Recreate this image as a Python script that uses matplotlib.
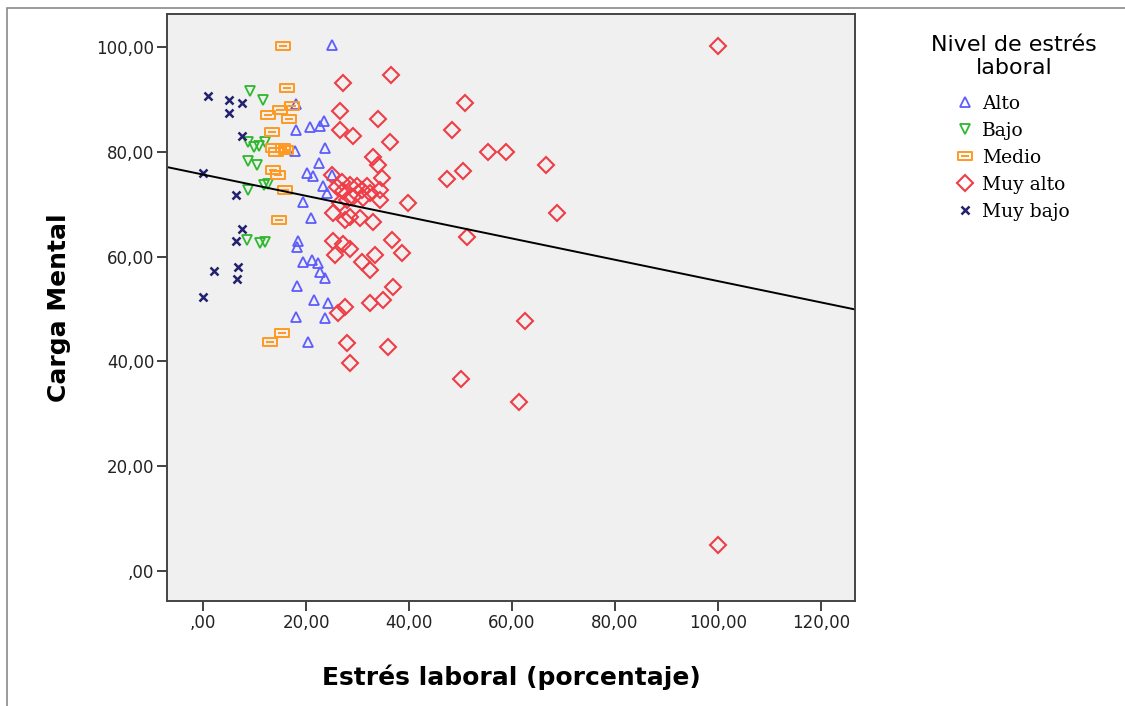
import matplotlib
matplotlib.use("Agg")
import matplotlib.pyplot as plt
import numpy as np
from matplotlib.path import Path
from matplotlib.ticker import FuncFormatter
from matplotlib.patches import Rectangle

# Estrés laboral (x) / Carga Mental (y) por nivel de estrés
alto_x = [25.0, 18.1, 18.1, 20.8, 22.7, 23.5, 17.9, 23.7, 20.2, 21.4, 22.5, 25.0, 23.3, 24.1, 19.4,
          20.9, 18.4, 18.3, 19.4, 21.2, 22.3, 22.7, 23.7, 18.3, 21.6, 24.3, 18.1, 23.7, 20.4]
alto_y = [100.3, 89.2, 84.2, 84.8, 85.0, 85.8, 80.2, 80.8, 76.0, 75.4, 77.9, 75.6, 73.4, 72.2, 70.5,
          67.4, 63.0, 61.9, 59.0, 59.4, 58.8, 57.1, 56.0, 54.4, 51.7, 51.2, 48.5, 48.3, 43.7]

bajo_x = [9.1, 11.7, 8.7, 9.9, 10.9, 12.0, 8.7, 10.5, 11.8, 12.6, 8.7, 8.5, 11.1, 12.0]
bajo_y = [91.7, 89.9, 81.8, 81.0, 81.2, 81.8, 78.3, 77.4, 73.6, 73.8, 72.8, 63.2, 62.7, 62.8]

medio_x = [15.5, 16.3, 17.3, 15.0, 12.6, 16.7, 13.4, 16.1, 13.6, 15.5, 14.2, 13.6, 14.6, 15.9,
           14.8, 15.3, 13.0]
medio_y = [100.1, 92.1, 88.8, 88.0, 87.1, 86.3, 83.7, 80.4, 80.8, 80.8, 79.9, 76.6, 75.6, 72.8,
           66.9, 45.5, 43.7]

muy_alto_x = [100.0, 100.0, 27.2, 36.5, 50.9, 26.6, 34.0, 26.6, 29.1, 36.3, 48.3, 55.3, 58.8, 66.6,
              33.0, 34.0, 50.5, 47.4, 39.8, 68.7, 51.3, 38.6, 62.5, 50.1, 61.4,
              25.0, 34.8, 34.4, 34.4, 27.0, 26.0, 27.2, 28.5, 29.9, 30.9, 31.8, 32.4, 29.1, 28.0,
              26.6, 31.1, 25.2, 28.5, 30.5, 33.0, 27.6,
              36.7, 25.2, 27.2, 28.5, 25.6, 30.9, 32.4, 33.4, 36.9, 35.0, 32.4, 27.6, 26.2, 28.0,
              35.9, 28.5]
muy_alto_y = [100.1, 5.0, 93.2, 94.6, 89.4, 87.7, 86.2, 84.2, 83.1, 81.8, 84.1, 80.0, 80.0, 77.5,
              79.1, 77.4, 76.4, 74.9, 70.3, 68.4, 63.8, 60.7, 47.7, 36.7, 32.3,
              75.6, 75.1, 72.8, 70.9, 74.3, 73.2, 72.6, 73.7, 73.4, 72.8, 73.4, 72.2, 71.4, 70.9,
              70.3, 71.2, 68.4, 67.6, 67.4, 66.7, 66.9,
              63.2, 63.0, 62.5, 61.5, 60.4, 59.0, 57.5, 60.4, 54.2, 51.8, 51.2, 50.4, 49.3, 43.6,
              42.8, 39.7]

muy_bajo_x = [1.0, 5.0, 7.6, 5.0, 7.6, 0.0, 6.4, 7.6, 6.4, 2.1, 6.8, 6.6, 0.0]
muy_bajo_y = [90.7, 89.9, 89.3, 87.4, 83.0, 76.0, 71.8, 65.3, 63.0, 57.3, 58.1, 55.8, 52.3]

# rectangulo con raya, como el de SPSS
rect_verts = [(-1, -0.55), (1, -0.55), (1, 0.55), (-1, 0.55), (-1, -0.55), (-0.5, 0), (0.5, 0)]
rect_codes = [Path.MOVETO, Path.LINETO, Path.LINETO, Path.LINETO, Path.CLOSEPOLY,
              Path.MOVETO, Path.LINETO]
rect_marker = Path(rect_verts, rect_codes)

fig = plt.figure(figsize=(11.25, 7.06), dpi=100)
ax = fig.add_axes([167/1125, 1-601/706, 688/1125, 587/706])
ax.set_facecolor("#f0f0f0")

groups = [
    ("Alto", alto_x, alto_y, "^", "#5c5cff", 7.2, 1.3),
    ("Bajo", bajo_x, bajo_y, "v", "#2eb82e", 7.2, 1.3),
    ("Medio", medio_x, medio_y, rect_marker, "#ff9922", 10.5, 1.4),
    ("Muy alto", muy_alto_x, muy_alto_y, "D", "#f03c46", 8.5, 1.5),
    ("Muy bajo", muy_bajo_x, muy_bajo_y, "x", "#22226e", 5.2, 1.8),
]
for name, xs, ys, mk, col, ms, lw in groups:
    ax.plot(xs, ys, linestyle="none", marker=mk, markersize=ms, markerfacecolor="none",
            markeredgecolor=col, markeredgewidth=lw, label=name)

# recta de ajuste lineal con todos los puntos
all_x = np.concatenate([alto_x, bajo_x, medio_x, muy_alto_x, muy_bajo_x])
all_y = np.concatenate([alto_y, bajo_y, medio_y, muy_alto_y, muy_bajo_y])
coef = np.polyfit(all_x, all_y, 1)
xl = np.array([-7, 126.6])
ax.plot(xl, np.polyval(coef, xl), color="black", lw=1.4)

ax.set_xlim(-7, 126.6)
ax.set_ylim(-5.7, 106.3)
ax.set_xticks([0, 20, 40, 60, 80, 100, 120])
ax.set_yticks([0, 20, 40, 60, 80, 100])

def fmt(v, pos):
    s = f"{v:.2f}".replace(".", ",")
    return s[1:] if s.startswith("0") else s

ax.xaxis.set_major_formatter(FuncFormatter(fmt))
ax.yaxis.set_major_formatter(FuncFormatter(fmt))
ax.tick_params(direction="out", length=7, width=1.3, color="#333333",
               labelsize=12, labelcolor="#222222", pad=2)
for sp in ax.spines.values():
    sp.set_color("#444444")
    sp.set_linewidth(1.4)

ax.set_xlabel("Estrés laboral (porcentaje)", family="DejaVu Sans", fontweight="bold",
              fontsize=18)
ax.set_ylabel("Carga Mental", family="DejaVu Sans", fontweight="bold", fontsize=18)
ax.xaxis.set_label_coords(0.5, -0.108)
ax.yaxis.set_label_coords(-0.14, 0.5)

leg = fig.legend(loc="upper center", bbox_to_anchor=(1014/1125, 1-18/706), frameon=False,
                 title="Nivel de estrés\nlaboral", handlelength=0.8, handletextpad=0.5,
                 labelspacing=0.48, prop={"family": "DejaVu Serif", "size": 13.5},
                 title_fontproperties={"family": "DejaVu Sans", "size": 16})
leg.get_title().set_multialignment("center")
leg._legend_box.sep = 12

fig.patches.append(Rectangle((7/1125, -0.05), 1.2, 1.05 - 8/706, transform=fig.transFigure,
                             fill=False, edgecolor="#8a8a8a", lw=1.2))

fig.savefig("out.png", dpi=100)
